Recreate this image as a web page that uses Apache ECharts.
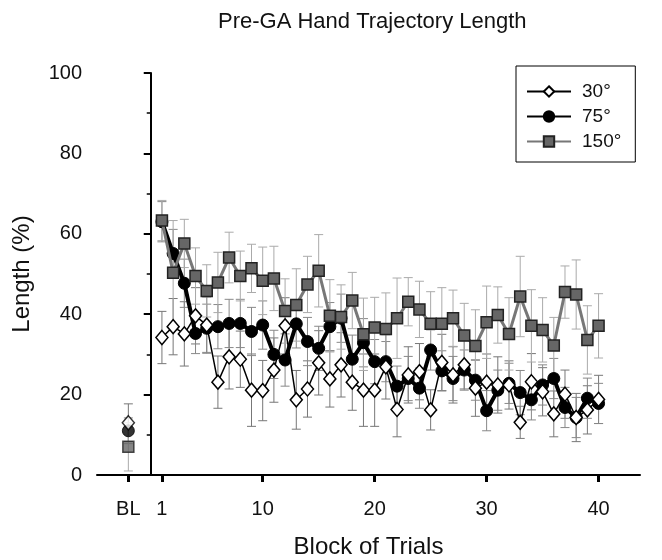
<!DOCTYPE html>
<html>
<head>
<meta charset="utf-8">
<script src="https://cdn.jsdelivr.net/npm/echarts@6/dist/echarts.min.js"></script>
<style>
  html, body { margin: 0; padding: 0; background: #fff; }
  #main { width: 662px; height: 560px; }
</style>
</head>
<body>
<div id="main"></div>
<script>
// trial numbers 1..40, baseline is put at x = -2
let trials = []
for (let i = 1; i <= 40; i++) trials.push(i)
let blX = -2

// mean length (%) per block
let len30 = [34.2, 36.9, 35.1, 39.6, 37.3, 23.1, 29.4, 28.8, 21.1, 21.0, 26.1, 37.1, 18.7, 21.4, 27.9, 23.9, 27.4, 23.1, 21.1, 21.1,
  26.9, 16.3, 24.9, 25.7, 16.2, 28.0, 24.9, 27.4, 21.6, 23.1, 22.4, 22.4, 13.1, 23.2, 20.7, 15.2, 20.1, 14.3, 16.2, 18.8]
let len75 = [63.0, 55.1, 47.7, 35.2, 36.5, 36.9, 37.7, 37.7, 35.7, 37.3, 30.0, 28.6, 37.6, 33.2, 31.5, 36.9, 39.0, 28.8, 32.9, 28.2,
  28.2, 22.1, 24.0, 21.6, 31.1, 25.9, 24.0, 26.1, 23.6, 16.0, 21.1, 22.8, 20.5, 18.7, 22.4, 24.0, 16.8, 14.3, 19.1, 17.8]
let len150 = [63.3, 50.3, 57.6, 49.5, 45.8, 47.9, 54.1, 49.5, 51.4, 48.3, 48.9, 40.8, 42.3, 47.4, 50.8, 39.6, 39.3, 43.4, 35.0, 36.7,
  36.3, 39.0, 43.1, 41.2, 37.6, 37.6, 39.0, 34.7, 32.1, 38.0, 39.8, 35.1, 44.4, 37.1, 36.1, 32.2, 45.5, 44.9, 33.6, 37.1]

// error bar half-heights
let err30 = [6.5, 7, 8, 7, 7, 6.5, 8, 7, 9, 7.5, 8, 7, 7.3, 7, 8, 7, 8, 7, 9, 9,
  8, 6.8, 7, 7, 5, 7, 7, 6, 7, 7, 7, 6, 4, 7, 6, 5.7, 6, 6, 6, 6]
let err75 = [5, 6, 6, 5, 6, 5.5, 6, 6, 6, 6, 6, 6.5, 6, 6, 5.5, 6, 6, 6, 6, 5.5,
  5, 5, 5.5, 5, 5, 5, 5.5, 5, 5, 5, 5, 5, 5.5, 5, 5, 5, 5, 5, 5, 5]
let err150 = [5, 13, 6, 7, 6.5, 7.5, 6.3, 6.2, 6, 8.4, 8, 8, 9, 7, 9, 9, 8, 7, 9, 7.5,
  9, 10, 6, 7, 8, 9, 7, 8, 9, 9, 7, 9, 10, 9, 8, 7, 6.5, 8.6, 8.5, 8]

// baseline values
let bl30 = 13.0, blErr30 = 4.7
let bl75 = 11.0, blErr75 = 3.2
let bl150 = 7.0, blErr150 = 6.0

let xTicks = [-2, 1, 10, 20, 30, 40]

let toPts = (vals) => trials.map((t, i) => [t, vals[i]])
let toErr = (vals, errs, bl, blErr) => {
  let out = trials.map((t, i) => [t, vals[i], errs[i]])
  out.push([blX, bl, blErr])
  return out
}

// 误差线
let errSeries = (data, color) => ({
  type: 'custom',
  silent: true,
  z: 1,
  data: data,
  renderItem: function (params, api) {
    let x = api.value(0), y = api.value(1), e = api.value(2)
    let top = api.coord([x, y + e])
    let bot = api.coord([x, y - e])
    let w = 4.5
    let style = { stroke: color, lineWidth: 1 }
    return {
      type: 'group',
      children: [
        { type: 'line', shape: { x1: top[0], y1: top[1], x2: bot[0], y2: bot[1] }, style: style },
        { type: 'line', shape: { x1: top[0] - w, y1: top[1], x2: top[0] + w, y2: top[1] }, style: style },
        { type: 'line', shape: { x1: bot[0] - w, y1: bot[1], x2: bot[0] + w, y2: bot[1] }, style: style }
      ]
    }
  }
})

let style30 = {
  symbol: 'diamond', symbolSize: [12, 14],
  itemStyle: { color: '#fff', borderColor: '#000', borderWidth: 1.5 }
}
let style75 = {
  symbol: 'circle', symbolSize: 12,
  itemStyle: { color: '#000', borderColor: '#000', borderWidth: 1 }
}
let style150 = {
  symbol: 'rect', symbolSize: 11,
  itemStyle: { color: '#666', borderColor: '#222', borderWidth: 1.5 }
}

let font = 'Liberation Sans, Arial, sans-serif'
let myChart = echarts.init(document.getElementById('main'))
let option = {
  backgroundColor: '#fff',
  animation: false,
  title: {
    text: 'Pre-GA Hand Trajectory Length',
    left: 213, top: 6,
    textStyle: { fontFamily: font, fontSize: 22, fontWeight: 'normal', color: '#111' }
  },
  legend: {
    data: ['30°', '75°', '150°'],
    orient: 'vertical',
    left: 516, top: 66,
    padding: [16, 14, 11, 10],
    itemGap: 6,
    itemWidth: 44, itemHeight: 13,
    borderColor: '#000', borderWidth: 1,
    textStyle: { fontFamily: font, fontSize: 19, color: '#111', padding: [0, 0, 0, 6] }
  },
  grid: { left: 97, right: 22, top: 73, bottom: 85, outerBoundsMode: 'none' },
  xAxis: {
    type: 'value',
    min: -4.8, max: 43.7,
    name: 'Block of Trials',
    nameLocation: 'middle',
    nameGap: 60,
    nameTextStyle: { fontFamily: font, fontSize: 24, color: '#111' },
    splitLine: { show: false },
    axisLine: { lineStyle: { color: '#000', width: 2 } },
    axisTick: { customValues: xTicks, length: 7, lineStyle: { color: '#000', width: 3 } },
    axisLabel: {
      customValues: xTicks,
      margin: 24,
      fontFamily: font, fontSize: 20, color: '#111',
      formatter: (v) => v === blX ? 'BL' : String(v)
    }
  },
  yAxis: {
    type: 'value',
    min: 0, max: 100, interval: 20,
    name: 'Length (%)',
    nameLocation: 'middle',
    nameGap: 63,
    nameTextStyle: { fontFamily: font, fontSize: 24, color: '#111' },
    splitLine: { show: false },
    axisLine: { show: true, lineStyle: { color: '#000', width: 2 } },
    axisTick: { show: true, length: 7, lineStyle: { color: '#000', width: 2 } },
    minorTick: { show: true, splitNumber: 2, length: 4, lineStyle: { color: '#000', width: 1.5 } },
    axisLabel: { margin: 15, fontFamily: font, fontSize: 20, color: '#111' }
  },
  series: [
    errSeries(toErr(len30, err30, bl30, blErr30), '#777'),
    errSeries(toErr(len75, err75, bl75, blErr75), '#888'),
    errSeries(toErr(len150, err150, bl150, blErr150), '#aaa'),
    Object.assign({
      name: '75°', type: 'line', z: 3, data: toPts(len75),
      lineStyle: { color: '#000', width: 4 }
    }, style75),
    Object.assign({
      name: '150°', type: 'line', z: 4, data: toPts(len150),
      lineStyle: { color: '#777', width: 3 }
    }, style150),
    Object.assign({
      name: '30°', type: 'line', z: 5, data: toPts(len30),
      lineStyle: { color: '#000', width: 1.5 }
    }, style30),
    Object.assign({ name: '75°', type: 'scatter', z: 3, data: [[blX, bl75]] }, style75),
    Object.assign({ name: '150°', type: 'scatter', z: 4, data: [[blX, bl150]] }, style150),
    Object.assign({ name: '30°', type: 'scatter', z: 5, data: [[blX, bl30]] }, style30)
  ]
}
myChart.setOption(option)
</script>
</body>
</html>
